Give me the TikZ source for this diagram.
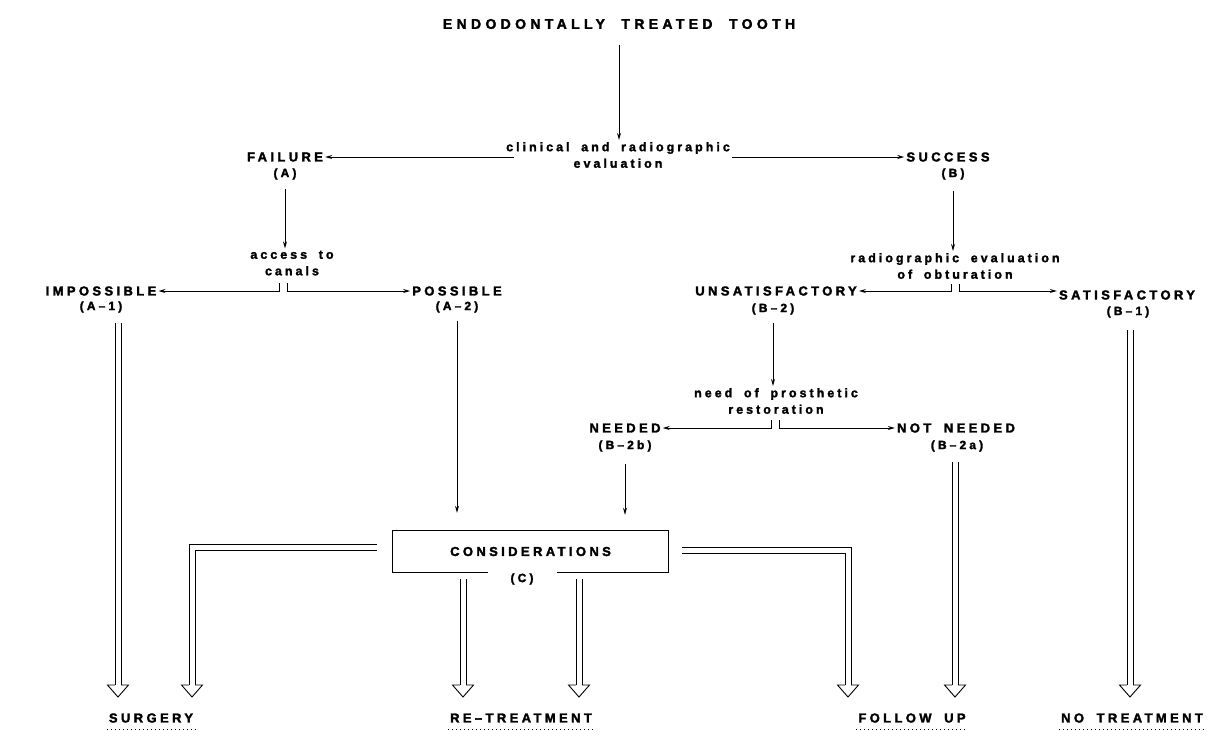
\documentclass[tikz,border=0pt]{standalone}
\usepackage{fontspec}
\setmainfont{Liberation Sans}
\newfontfamily\capsfont[LetterSpace=26, WordSpace=1.8, FakeBold=2.2]{Liberation Sans Bold}
\newfontfamily\titlefont[LetterSpace=31, WordSpace=2, FakeBold=2.2]{Liberation Sans Bold}
\newfontfamily\lowfont[LetterSpace=24, WordSpace=1.8, FakeBold=1.8]{Liberation Sans Bold}
\usetikzlibrary{arrows.meta,calc}
\tikzset{
  titlest/.style={font=\titlefont\fontsize{14}{16}\selectfont, inner sep=2pt},
  caps/.style={font=\capsfont\fontsize{13}{15}\selectfont, inner sep=2pt},
  codest/.style={font=\capsfont\fontsize{12}{14}\selectfont, inner sep=2pt},
  low/.style={font=\lowfont\fontsize{12.5}{16.5}\selectfont, align=center, inner sep=2pt},
  endst/.style={font=\capsfont\fontsize{13}{15}\selectfont, inner sep=2pt},
  arr/.style={draw, line width=0.9pt, -{Stealth[length=7pt,width=4pt]}},
  shaft/.style={draw, line width=0.9pt, line join=miter},
  dotline/.style={draw, line width=1.1pt, dash pattern=on 1.3pt off 2.7pt},
  hhead/.pic={\draw[line width=0.9pt, fill=white, line join=miter]
     (-3,-12) -- (-10.5,-12) -- (0,0) -- (10.5,-12) -- (3,-12);},
}
\newcommand\vshaft[2]{%
  \draw[shaft] ([xshift=-3pt]#1) -- ([xshift=-3pt]#2);
  \draw[shaft] ([xshift=3pt]#1) -- ([xshift=3pt]#2);}
\begin{document}
\begin{tikzpicture}[x=1pt,y=-1pt]
\useasboundingbox (0,0) rectangle (1231,740);
% top
\node[titlest] (title) at (619,24) {ENDODONTALLY TREATED TOOTH};
\node[low] (clin) at (618,155) {clinical and radiographic\\evaluation};
\node[caps] (fail) at (285,157) {FAILURE};
\node[codest] (failc) at (285,174) {(A)};
\node[caps] (succ) at (948,157) {SUCCESS};
\node[codest] (succc) at (953,174) {(B)};
% A branch
\node[low] (acc) at (292,263) {access to\\canals};
\node[caps] (imp) at (101,291) {IMPOSSIBLE};
\node[codest] (impc) at (101,307) {(A–1)};
\node[caps] (pos) at (457,291) {POSSIBLE};
\node[codest] (posc) at (457,307) {(A–2)};
% B branch
\node[low] (rad) at (955,266) {radiographic evaluation\\of obturation};
\node[caps] (unsat) at (776,291) {UNSATISFACTORY};
\node[codest] (unsatc) at (773,309) {(B–2)};
\node[caps] (sat) at (1127,295) {SATISFACTORY};
\node[codest] (satc) at (1128,312) {(B–1)};
\node[low] (need) at (776,401) {need of prosthetic\\restoration};
\node[caps] (nd) at (625,428) {NEEDED};
\node[codest] (ndc) at (625,446) {(B–2b)};
\node[caps] (nn) at (956,428) {NOT NEEDED};
\node[codest] (nnc) at (957,446) {(B–2a)};
% considerations
\node[caps, minimum width=275pt, minimum height=41pt] (cons) at (530.5,551.5) {CONSIDERATIONS};
\node[codest] (consc) at (522,579) {(C)};
\draw[line width=0.9pt] ([xshift=-34pt]consc.center |- cons.south) -- (cons.south west)
   |- (cons.north east) -- (cons.south east) -- ([xshift=35pt]consc.center |- cons.south);
% end labels
\node[endst] (surg) at (151,718) {SURGERY};
\node[endst] (retr) at (521,718) {RE–TREATMENT};
\node[endst] (fol) at (912,718) {FOLLOW UP};
\node[endst] (notr) at (1132,718) {NO TREATMENT};
\foreach \n in {surg,retr,fol,notr}
  \draw[dotline] ([yshift=-5pt]\n.south west) -- ([yshift=-5pt]\n.south east);
% branch coordinates
\coordinate (accL) at (279,283);
\coordinate (accR) at (287,283);
\coordinate (radL) at (951,284);
\coordinate (radR) at (959,284);
\coordinate (needL) at (771,420);
\coordinate (needR) at (779,420);
% thin arrows
\draw[arr, shorten <=14pt] (title.south) -- (title.south |- clin.north);
\draw[arr, shorten <=-10pt] (clin.west |- fail) -- (fail.east);
\draw[arr] (clin.east |- succ) -- (succ.west);
\draw[arr, shorten <=7pt] (failc.south) -- (failc.south |- acc.north);
\draw[arr] (accL) |- (imp.east);
\draw[arr] (accR) |- (pos.west);
\draw[arr, shorten <=9pt] (succc.south) -- (succc.south |- rad.north);
\draw[arr] (radL) |- (unsat.east);
\draw[arr] (radR) |- (sat.west |- unsat.east);
\draw[arr, shorten <=6pt] (unsatc.south) -- (unsatc.south |- need.north);
\draw[arr] (needL) |- (nd.east);
\draw[arr] (needR) |- (nn.west);
\draw[arr, shorten <=6pt, shorten >=18pt] (posc.south) -- (posc.south |- cons.north);
\draw[arr, shorten <=10pt, shorten >=16pt] (ndc.south) -- (ndc.south |- cons.north);
% hollow double arrows
\coordinate (b1) at (118,685);
\coordinate (b2) at (192,685);
\coordinate (b3) at (463,685);
\coordinate (b4) at (579,685);
\coordinate (b5) at (848,685);
\coordinate (b6) at (955,685);
\coordinate (b7) at (1130,685);
\vshaft{$(b1 |- impc.south)+(0,8)$}{b1}
\vshaft{$(b3 |- cons.south)+(0,7)$}{b3}
\vshaft{$(b4 |- cons.south)+(0,7)$}{b4}
\vshaft{$(b6 |- nnc.south)+(0,8)$}{b6}
\vshaft{$(b7 |- satc.south)+(0,10)$}{b7}
% L-shaped double connectors
\draw[shaft] ([xshift=-16pt,yshift=7.5pt]cons.west) -| ([xshift=-3pt]b2);
\draw[shaft] ([xshift=-16pt,yshift=1.5pt]cons.west) -| ([xshift=3pt]b2);
\draw[shaft] ([xshift=14pt,yshift=4.5pt]cons.east) -| ([xshift=3pt]b5);
\draw[shaft] ([xshift=14pt,yshift=-1.5pt]cons.east) -| ([xshift=-3pt]b5);
\foreach \b in {b1,b2,b3,b4,b5,b6,b7}
  \pic at ([yshift=-12pt]\b) {hhead};
\end{tikzpicture}
\end{document}
